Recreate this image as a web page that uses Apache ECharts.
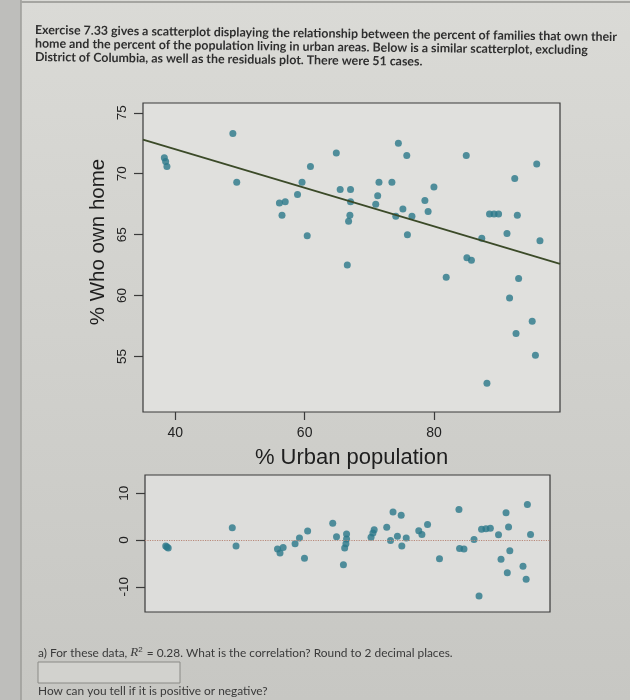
<!DOCTYPE html>
<html>
<head>
<meta charset="utf-8">
<title>Urban population vs home ownership</title>
<script src="https://cdn.jsdelivr.net/npm/echarts@6/dist/echarts.min.js"></script>
<style>
  html, body { margin: 0; padding: 0; }
  #chart { width: 630px; height: 700px; }
</style>
</head>
<body>
<div id="chart"></div>
<script>
// 51 states (DC excluded): % urban population vs % who own home
const urbanPct = [38.3, 38.7, 38.5, 48.9, 49.5, 56.1, 56.5, 57.0, 58.9, 59.6, 60.4, 60.9,
  64.9, 65.5, 66.6, 66.8, 67.0, 67.1, 67.1, 71.0, 71.3, 71.5, 73.5, 74.1, 74.5, 75.2,
  75.8, 75.9, 76.6, 78.6, 79.1, 80.0, 81.9, 85.0, 85.1, 85.8, 87.4, 88.2, 88.6, 89.3,
  90.0, 91.3, 91.7, 92.5, 92.7, 92.9, 93.1, 95.2, 95.7, 95.9, 96.4];
const ownHome = [71.3, 70.6, 71.0, 73.3, 69.3, 67.6, 66.6, 67.7, 68.3, 69.3, 64.9, 70.6,
  71.7, 68.7, 62.5, 66.1, 66.6, 68.7, 67.7, 67.5, 68.2, 69.3, 69.3, 66.5, 72.5, 67.1,
  71.5, 65.0, 66.5, 67.8, 66.9, 68.9, 61.5, 71.5, 63.1, 62.9, 64.7, 52.8, 66.7, 66.7,
  66.7, 65.1, 59.8, 69.6, 56.9, 66.6, 61.4, 57.9, 55.1, 70.8, 64.5];
// residuals (same order as urbanPct)
const residuals = [-1.3, -1.7, -1.5, 2.6, -1.3, -1.9, -2.8, -1.6, -0.8, 0.4, -3.9, 1.9,
  3.6, 0.7, -5.3, -1.7, -0.8, 1.3, 0.2, 0.6, 1.5, 2.2, 2.7, -0.1, 6.0, 0.8,
  5.3, -1.3, 0.4, 2.0, 1.2, 3.3, -4.0, 6.5, -1.8, -1.9, 0.1, -12.0, 2.3, 2.4,
  2.5, 1.1, -4.1, 5.8, -7.0, 2.8, -2.3, -5.6, -8.4, 7.6, 1.2];

// fitted line: ownHome = fitIntercept + fitSlope * urbanPct
const fitIntercept = 78.33;
const fitSlope = -0.158;

const xTicks = [40, 60, 80];
const yTicks = [55, 60, 65, 70, 75];
const residTicks = [-10, 0, 10];

const xMin = 35, xMax = 99.5;
const yMin = 50.45, yMax = 75.8;
const rMin = -15.4, rMax = 13.9;

const introLines = [
  'Exercise 7.33 gives a scatterplot displaying the relationship between the percent of families that own their',
  'home and the percent of the population living in urban areas. Below is a similar scatterplot, excluding',
  'District of Columbia, as well as the residuals plot. There were 51 cases.'
];

const dotColor = '#2b7889';
const frameColor = '#3a3a3a';

const scatterData = urbanPct.map((x, i) => [x, ownHome[i]]);
const residData = urbanPct.map((x, i) => [x, residuals[i]]);
const fitLine = [xMin, xMax].map(x => [x, fitIntercept + fitSlope * x]);

const chart = echarts.init(document.getElementById('chart'));

const introText = introLines.map((t, i) => ({
  type: 'text',
  x: 35,
  y: 30 + i * 13.5,
  rotation: -0.012,
  style: {
    text: t,
    font: 'bold 12.4px Lato, "Liberation Sans", sans-serif',
    fill: '#2e2e2e',
    textVerticalAlign: 'middle'
  }
}));

const option = {
  backgroundColor: {
    type: 'linear', x: 0, y: 0, x2: 0, y2: 1,
    colorStops: [
      { offset: 0, color: '#dadad6' },
      { offset: 1, color: '#c7c7c3' }
    ]
  },
  animation: false,
  graphic: [
    { type: 'rect', shape: { x: 0, y: 0, width: 21, height: 700 }, style: { fill: '#bebebb' } },
    { type: 'line', shape: { x1: 21, y1: 0, x2: 21, y2: 700 }, style: { stroke: '#9c9c98', lineWidth: 1.5 } },
    { type: 'line', shape: { x1: 21, y1: 2, x2: 630, y2: 2 }, style: { stroke: '#a5a5a1', lineWidth: 2 } },
    ...introText,
    {
      type: 'text',
      x: 98, y: 242,
      rotation: Math.PI / 2,
      style: {
        text: '% Who own home',
        font: '20.5px "Liberation Sans", Arial, sans-serif',
        fill: '#1e1e1e',
        textAlign: 'center',
        textVerticalAlign: 'middle'
      }
    },
    {
      type: 'text',
      x: 38, y: 653,
      style: {
        text: 'a) For these data, {i|R}{s|2} = 0.28. What is the correlation? Round to 2 decimal places.',
        font: '11.9px Lato, "Liberation Sans", sans-serif',
        fill: '#3a3a3a',
        textVerticalAlign: 'middle',
        rich: {
          i: { fontStyle: 'italic', fontFamily: '"Liberation Serif", serif', fontSize: 13, fill: '#3a3a3a' },
          s: { fontSize: 8, verticalAlign: 'top', fill: '#3a3a3a', padding: [0, 1, 6, 0] }
        }
      }
    },
    {
      type: 'rect',
      shape: { x: 38, y: 662, width: 142, height: 21 },
      style: { fill: '#d2d2ce', stroke: '#8a8a86', lineWidth: 1 }
    },
    {
      type: 'text',
      x: 38, y: 691,
      style: {
        text: 'How can you tell if it is positive or negative?',
        font: '11.9px Lato, "Liberation Sans", sans-serif',
        fill: '#3a3a3a',
        textVerticalAlign: 'middle'
      }
    }
  ],
  grid: [
    {
      left: 143, right: 70, top: 103, bottom: 288,
      show: true, backgroundColor: '#e0e0dd', borderColor: frameColor, borderWidth: 1.2
    },
    {
      left: 145, right: 80, top: 475, bottom: 88,
      show: true, backgroundColor: '#dddddb', borderColor: frameColor, borderWidth: 1.2
    }
  ],
  xAxis: [
    {
      gridIndex: 0, type: 'value', min: xMin, max: xMax,
      name: '% Urban population', nameLocation: 'middle', nameGap: 35,
      nameTextStyle: { fontFamily: '"Liberation Sans", Arial, sans-serif', fontSize: 22, color: '#1e1e1e' },
      axisLine: { show: false },
      splitLine: { show: false },
      axisTick: { show: true, length: 8, customValues: xTicks, lineStyle: { color: frameColor, width: 1.2 } },
      axisLabel: {
        customValues: xTicks, margin: 14,
        fontFamily: '"Liberation Sans", Arial, sans-serif', fontSize: 14, color: '#222'
      }
    },
    {
      gridIndex: 1, type: 'value', min: xMin, max: xMax,
      axisLine: { show: false }, splitLine: { show: false },
      axisTick: { show: false }, axisLabel: { show: false }
    }
  ],
  yAxis: [
    {
      gridIndex: 0, type: 'value', min: yMin, max: yMax,
      axisLine: { show: false },
      splitLine: { show: false },
      axisTick: { show: true, length: 9, customValues: yTicks, lineStyle: { color: frameColor, width: 1.2 } },
      axisLabel: {
        customValues: yTicks, rotate: 90, margin: 14,
        fontFamily: '"Liberation Sans", Arial, sans-serif', fontSize: 13.5, color: '#222'
      }
    },
    {
      gridIndex: 1, type: 'value', min: rMin, max: rMax,
      axisLine: { show: false },
      splitLine: { show: false },
      axisTick: { show: true, length: 9, customValues: residTicks, lineStyle: { color: frameColor, width: 1.2 } },
      axisLabel: {
        customValues: residTicks, rotate: 90, margin: 14,
        fontFamily: '"Liberation Sans", Arial, sans-serif', fontSize: 13.5, color: '#222'
      }
    }
  ],
  series: [
    {
      name: 'States', type: 'scatter', xAxisIndex: 0, yAxisIndex: 0,
      data: scatterData, symbolSize: 7,
      itemStyle: { color: dotColor }
    },
    {
      name: 'Fit', type: 'line', xAxisIndex: 0, yAxisIndex: 0,
      data: fitLine, showSymbol: false, silent: true,
      lineStyle: { color: '#3b4a28', width: 1.8 }
    },
    {
      name: 'Residuals', type: 'scatter', xAxisIndex: 1, yAxisIndex: 1,
      data: residData, symbolSize: 7,
      itemStyle: { color: dotColor },
      markLine: {
        silent: true, symbol: 'none', label: { show: false },
        lineStyle: { color: '#b8897a', type: 'dotted', width: 1.2 },
        data: [{ yAxis: 0 }]
      }
    }
  ]
};

chart.setOption(option);
</script>
</body>
</html>
